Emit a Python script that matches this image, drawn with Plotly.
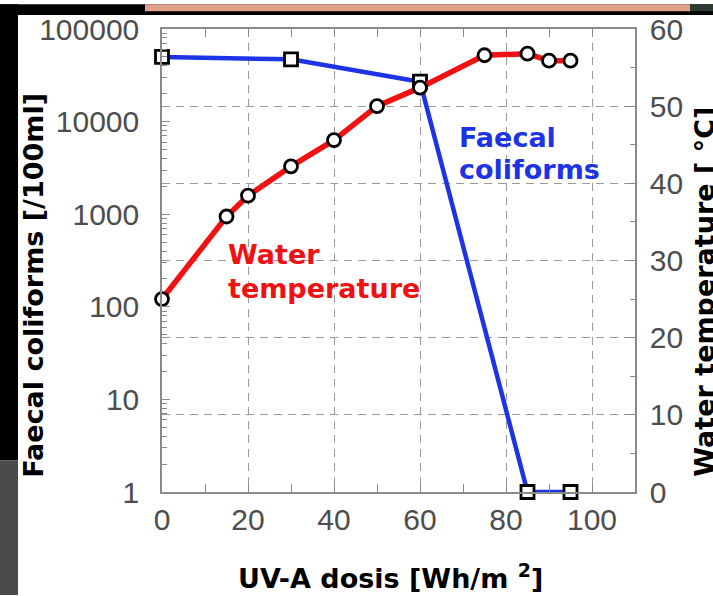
import plotly.graph_objects as go

# ---- data ----
dose_fc = [0, 30, 60, 85, 95]
faecal_coliforms = [50000, 47000, 27000, 1, 1]

dose_temp = [0, 15, 20, 30, 40, 50, 60, 75, 85, 90, 95]
water_temp = [25, 35.7, 38.4, 42.2, 45.6, 50.0, 52.4, 56.6, 56.8, 55.9, 55.9]

x_ticks = [0, 20, 40, 60, 80, 100]
y_log_ticks = [1, 10, 100, 1000, 10000, 100000]
y_log_minor = [m * 10 ** d for d in range(5) for m in range(2, 10)]
y2_ticks = [0, 10, 20, 30, 40, 50, 60]

# ---- layout geometry (pixels) ----
W, H = 713, 596
L, R, T, B = 162, 635, 25, 492


def px_x(p):
    return (p - L) / (R - L)


def px_y(p):
    return (B - p) / (B - T)


BOLD = "DejaVu Sans"
TICKFONT = dict(family="Liberation Sans", size=30, color="#4d4d4d")
AXCOL = "#8a8a8a"
GRIDCOL = "#9a9a9a"

fig = go.Figure()

fig.add_trace(go.Scatter(
    x=dose_fc, y=faecal_coliforms, mode="lines+markers",
    line=dict(color="#1c33e6", width=4.5),
    marker=dict(symbol="square", size=13, color="white",
                line=dict(color="black", width=2.8)),
    cliponaxis=False, yaxis="y", showlegend=False,
))

fig.add_trace(go.Scatter(
    x=dose_temp, y=water_temp, mode="lines+markers",
    line=dict(color="#f01212", width=5.5),
    marker=dict(symbol="circle", size=13, color="white",
                line=dict(color="black", width=2.8)),
    cliponaxis=False, yaxis="y2", showlegend=False,
))

fig.update_layout(
    width=W, height=H,
    margin=dict(l=L, r=W - R, t=T, b=H - B, pad=0),
    paper_bgcolor="white", plot_bgcolor="white",
    font=dict(family="Liberation Sans"),
    xaxis=dict(
        range=[0, 110], tickmode="array", tickvals=x_ticks,
        ticks="inside", ticklen=8, tickcolor=AXCOL, tickwidth=1,
        minor=dict(tickmode="linear", tick0=0, dtick=10, ticks="inside",
                   ticklen=6, tickcolor=AXCOL, showgrid=False),
        showline=True, linecolor=AXCOL, linewidth=1.5, mirror="allticks",
        showgrid=True, gridcolor=GRIDCOL, gridwidth=1, griddash="8px,6px",
        zeroline=False, tickfont=TICKFONT, ticklabelstandoff=0,
    ),
    yaxis=dict(
        type="log", range=[0, 5], tickmode="array", tickvals=y_log_ticks,
        ticktext=[str(v) for v in y_log_ticks],
        ticks="inside", ticklen=8, tickcolor=AXCOL,
        minor=dict(tickmode="array", tickvals=y_log_minor, ticks="inside",
                   ticklen=5, tickcolor=AXCOL, showgrid=False),
        showline=True, linecolor=AXCOL, linewidth=1.5,
        showgrid=False, zeroline=False, tickfont=TICKFONT,
        ticklabelstandoff=15,
    ),
    yaxis2=dict(
        overlaying="y", side="right", range=[0, 60],
        tickmode="array", tickvals=y2_ticks,
        ticks="inside", ticklen=8, tickcolor=AXCOL,
        minor=dict(tickmode="linear", tick0=0, dtick=5, ticks="inside",
                   ticklen=5, tickcolor=AXCOL, showgrid=False),
        showline=True, linecolor=AXCOL, linewidth=1.5,
        showgrid=True, gridcolor=GRIDCOL, gridwidth=1, griddash="8px,6px",
        zeroline=False, tickfont=TICKFONT, ticklabelstandoff=7,
    ),
)

# axis titles and in-plot labels
ann = [
    dict(text="Faecal coliforms [/100ml]", x=px_x(34), y=px_y(284),
         textangle=-90, color="black"),
    dict(text="Water temperature [ °C]", x=px_x(705), y=px_y(290),
         textangle=-90, color="black"),
    dict(text="UV-A dosis [Wh/m <sup>2</sup>]", x=px_x(390), y=px_y(577),
         textangle=0, color="black"),
]
for a in ann:
    fig.add_annotation(text=a["text"], xref="paper", yref="paper",
                       x=a["x"], y=a["y"], xanchor="center", yanchor="middle",
                       textangle=a["textangle"], showarrow=False,
                       font=dict(family=BOLD, size=27, color=a["color"],
                                 weight="bold"))

labels = [
    ("Faecal", 457, 134, "#1c33e6"),
    ("coliforms", 457, 167, "#1c33e6"),
    ("Water", 226, 252, "#f01212"),
    ("temperature", 226, 287, "#f01212"),
]
for txt, lx, ly, col in labels:
    fig.add_annotation(text=txt, xref="paper", yref="paper",
                       x=px_x(lx), y=px_y(ly), xanchor="left", yanchor="middle",
                       showarrow=False,
                       font=dict(family=BOLD, size=27, color=col, weight="bold"))

# surrounding photo-frame decorations
frame = [
    (0, 0, 713, 11, "black"),
    (145, 0, 690, 7, "#dfa08c"),
    (690, 0, 713, 7, "#2e3a30"),
    (0, 0, 18, 460, "black"),
    (0, 460, 18, 596, "#4b4b4b"),
]
for x0, y0, x1, y1, c in frame:
    fig.add_shape(type="rect", xref="paper", yref="paper",
                  x0=px_x(x0), x1=px_x(x1), y0=px_y(y1), y1=px_y(y0),
                  fillcolor=c, line=dict(width=0), layer="above")

fig.write_html(
    "out.html",
    config={"displayModeBar": False},
    post_script="document.body.style.margin='0';"
                "document.body.style.overflow='hidden';",
)
